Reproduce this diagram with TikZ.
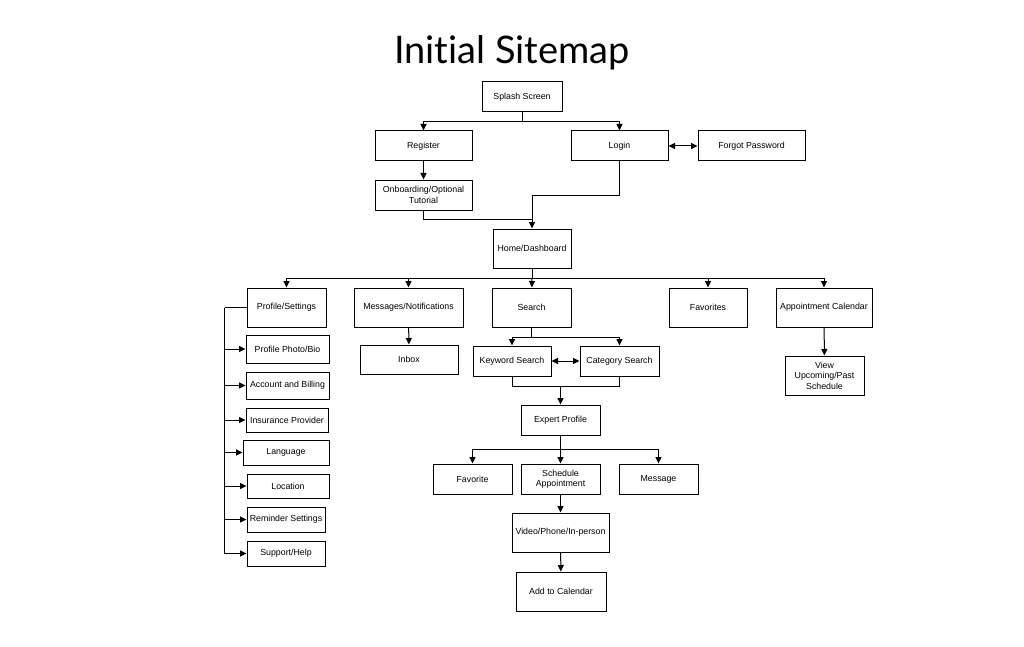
\documentclass[tikz,border=0pt]{standalone}
\usepackage{fontspec}
\setmainfont{Liberation Sans}
\newfontfamily\titlefont[Ligatures=NoCommon]{Lato}
\usetikzlibrary{arrows.meta}

\begin{document}
\begin{tikzpicture}[x=1pt,y=-1pt,line width=1pt,
    box/.style={draw,inner sep=0pt,align=center,font=\fontsize{8.8}{10.5}\selectfont},
    arr/.style={-{Triangle[length=6.5pt,width=6pt]}},
    dbl/.style={{Triangle[length=6.5pt,width=6pt]}-{Triangle[length=6.5pt,width=6pt]}}]
        \useasboundingbox (0,0) rectangle (1024,647);
        \node[font=\titlefont\fontsize{38}{40}\selectfont,anchor=base] (title) at (512,64) {Initial Sitemap};
        % top part
        \node[box,minimum width=80pt,minimum height=30pt] (splash) at (522,97) {Splash Screen};
        \node[box,minimum width=97pt,minimum height=30pt] (register) at (423.5,146) {Register};
        \node[box,minimum width=97pt,minimum height=30pt] (login) at (619.5,146) {Login};
        \node[box,minimum width=107pt,minimum height=30pt] (forgot) at (751.5,146) {Forgot Password};
        \node[box,minimum width=97pt,minimum height=30pt] (onboard) at (423.5,195) {Onboarding/Optional\\Tutorial};
        \node[box,minimum width=78pt,minimum height=39pt] (home) at (532,248.5) {Home/Dashboard};
        \draw (splash.south) -- ++(0,9) coordinate (s1);
        \draw[arr] (s1) -| (register);
        \draw[arr] (s1) -| (login);
        \draw[dbl] (login) -- (forgot);
        \draw[arr] (register) -- (onboard);
        \coordinate (h1) at (532,195);
        \draw (onboard.south) |- (h1 |- 0,219);
        \draw[arr] (login.south) |- (h1) -- (home.north);
        % second row
        \node[box,minimum width=79pt,minimum height=39pt] (profile) at (286.5,307.5) {Profile/Settings};
        \node[box,minimum width=109pt,minimum height=39pt] (messages) at (408.5,307.5) {Messages/Notifications};
        \node[box,minimum width=79pt,minimum height=39pt] (search) at (531.5,307.5) {Search};
        \node[box,minimum width=78pt,minimum height=39pt] (favorites) at (708,307.5) {Favorites};
        \node[box,minimum width=96pt,minimum height=39pt] (calendar) at (824,307.5) {Appointment Calendar};
        \draw (home.south) -- ++(0,10) coordinate (h2);
        \draw[arr] (h2) -| (profile);
        \draw[arr] (h2) -| (messages);
        \draw[arr] (h2) -- (search);
        \draw[arr] (h2) -| (favorites);
        \draw[arr] (h2) -| (calendar);
        % profile list
        \node[box,minimum width=83pt,minimum height=28pt] (photo) at (287.5,349) {Profile Photo/Bio};
        \node[box,minimum width=83pt,minimum height=27pt] (billing) at (287.5,385.5) {Account and Billing};
        \node[box,minimum width=82pt,minimum height=24pt] (insurance) at (287,420) {Insurance Provider};
        \node[box,minimum width=86pt,minimum height=25pt] (language) at (286,452.5) {Language};
        \node[box,minimum width=82pt,minimum height=24pt] (location) at (288,486) {Location};
        \node[box,minimum width=78pt,minimum height=25pt] (reminder) at (286,519.5) {Reminder Settings};
        \node[box,minimum width=78pt,minimum height=25pt] (support) at (286,553.5) {Support/Help};
        \draw (profile.west) -- ++(-22,0) coordinate (p0);
        \draw[arr] (p0) |- (support.west);
        \draw[arr] (p0 |- photo.west) -- (photo.west);
        \draw[arr] (p0 |- billing.west) -- (billing.west);
        \draw[arr] (p0 |- insurance.west) -- (insurance.west);
        \draw[arr] (p0 |- language.west) -- (language.west);
        \draw[arr] (p0 |- location.west) -- (location.west);
        \draw[arr] (p0 |- reminder.west) -- (reminder.west);
        % messages, search, calendar
        \node[box,minimum width=98pt,minimum height=29pt] (inbox) at (409,359.5) {Inbox};
        \draw[arr] (messages) -- (inbox);
        \node[box,minimum width=78pt,minimum height=30pt] (keyword) at (512,361) {Keyword Search};
        \node[box,minimum width=79pt,minimum height=30pt] (category) at (619.5,361) {Category Search};
        \draw (search.south) -- ++(0,10) coordinate (k1);
        \draw[arr] (k1) -| (keyword);
        \draw[arr] (k1) -| (category);
        \draw[dbl] (keyword) -- (category);
        \node[box,minimum width=79pt,minimum height=30pt] (expert) at (560.5,420) {Expert Profile};
        \draw (keyword.south) -- ++(0,10) -| (category.south);
        \draw[arr] (expert.north |- 0,386) -- (expert.north);
        \node[box,minimum width=79pt,minimum height=39pt] (view) at (824.5,375.5) {View\\Upcoming/Past\\Schedule};
        \draw[arr] (calendar) -- (view);
        % expert profile
        \node[box,minimum width=79pt,minimum height=30pt] (favorite) at (472.5,479) {Favorite};
        \node[box,minimum width=79pt,minimum height=30pt] (schedule) at (560.5,479) {Schedule\\Appointment};
        \node[box,minimum width=79pt,minimum height=30pt] (message) at (658.5,479) {Message};
        \draw (expert.south) -- ++(0,14) coordinate (e1);
        \draw[arr] (e1) -| (favorite);
        \draw[arr] (e1) -- (schedule);
        \draw[arr] (e1) -| (message);
        \node[box,minimum width=97pt,minimum height=39pt] (video) at (560.5,532.5) {Video/Phone/In-person};
        \node[box,minimum width=90pt,minimum height=39pt] (addcal) at (561,591.5) {Add to Calendar};
        \draw[arr] (schedule) -- (video);
        \draw[arr] (video) -- (addcal);
      \end{tikzpicture}
\end{document}
